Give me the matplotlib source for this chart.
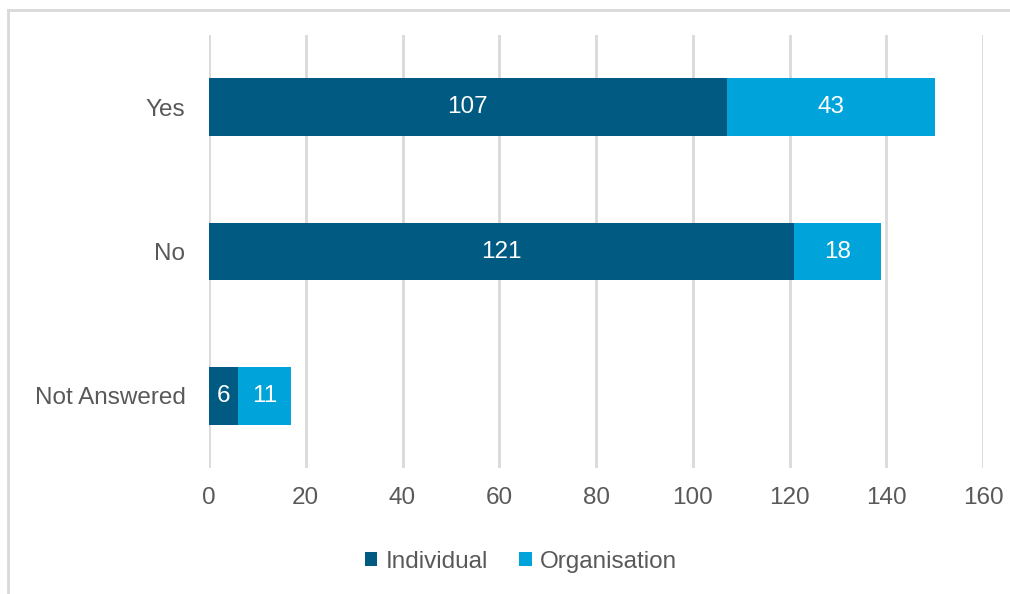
import matplotlib
matplotlib.use("Agg")
import matplotlib.pyplot as plt
from matplotlib.lines import Line2D

categories = ["Not Answered", "No", "Yes"]
individual = [6, 121, 107]
organisation = [11, 18, 43]
series_names = ["Individual", "Organisation"]
xticks = [0, 20, 40, 60, 80, 100, 120, 140, 160]

c_ind = "#005A82"
c_org = "#00A3DA"
gray = "#595959"
W, H = 1010, 594
FS = 17.5

plt.rcParams['font.family'] = ['Liberation Sans', 'DejaVu Sans']
fig = plt.figure(figsize=(W/100, H/100), dpi=100)
ax = fig.add_axes([209/W, 1-468/H, (983-209)/W, (468-35)/H])

y = range(len(categories))
h = 0.4
b1 = ax.barh(y, individual, height=h, color=c_ind, label=series_names[0], zorder=3)
b2 = ax.barh(y, organisation, left=individual, height=h, color=c_org, label=series_names[1], zorder=3)
for bars in (b1, b2):
    ax.bar_label(bars, label_type='center', color='white', fontsize=FS, zorder=4)

ax.set_xlim(0, 160)
ax.set_ylim(-0.5, 2.5)
ax.set_xticks(xticks)
ax.set_yticks(list(y))
ax.set_yticklabels(categories)
ax.tick_params(axis='both', length=0, labelsize=FS, labelcolor=gray)
ax.tick_params(axis='x', pad=14)
ax.tick_params(axis='y', pad=17)
ax.grid(axis='x', color='#D9D9D9', linewidth=2, zorder=0)
for s in ax.spines.values():
    s.set_visible(False)

fig.legend(handles=[b1, b2], labels=series_names, loc='center', bbox_to_anchor=(521/W, 1-562/H),
           ncol=2, frameon=False, fontsize=FS, labelcolor=gray, handlelength=0.5, handleheight=0.5,
           handletextpad=0.35, columnspacing=1.3)

fig.add_artist(Line2D([8/W, 1], [1-10/H, 1-10/H], transform=fig.transFigure, color='#D9D9D9', linewidth=2))
fig.add_artist(Line2D([8/W, 8/W], [0, 1-10/H], transform=fig.transFigure, color='#D9D9D9', linewidth=2))
fig.savefig("out.png", dpi=100)
